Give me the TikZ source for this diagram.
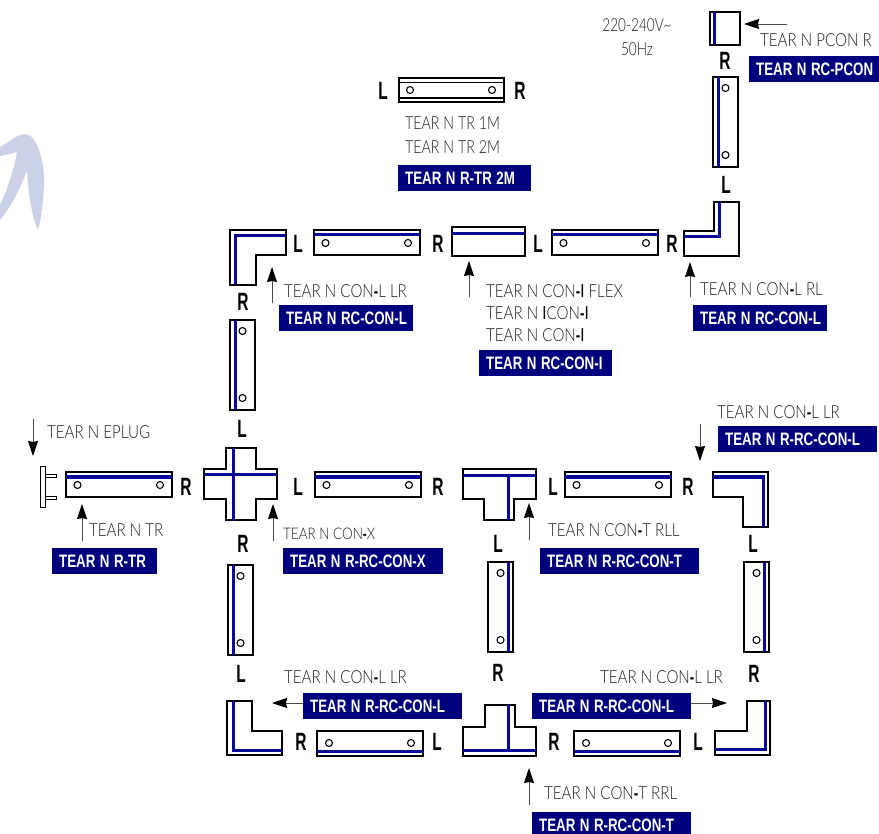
\documentclass[tikz,border=0pt]{standalone}
\usepackage{fontspec}
\usepackage{xcolor}
\usetikzlibrary{arrows.meta}
\setmainfont{Liberation Sans}
\newfontfamily\plainfont{Lato Light}[FakeStretch=0.84]
\newfontfamily\midfont{Lato}[FakeStretch=0.84]
\newfontfamily\heavyfont{Liberation Sans}[UprightFont=* Bold,FakeStretch=0.74]
\newfontfamily\sidefont{Liberation Sans}[UprightFont=* Bold,FakeStretch=0.62]
\definecolor{railblue}{HTML}{0A0A9A}
\definecolor{barblue}{HTML}{00007F}
\definecolor{swoosh}{HTML}{CCD0E8}
\definecolor{tagtext}{HTML}{1E1E1E}
\newcommand{\hy}{{\color{black}\heavyfont -}}
\newcommand{\dk}{{\color{black}\midfont I}}
\newcommand{\barstart}{\spaceskip 4.5pt\relax\hspace*{2pt}}

\begin{document}
\begin{tikzpicture}[
    x=1pt, y=-1pt,
    body/.style={draw=black, line width=1.4pt, line join=miter},
    stripe/.style={draw=railblue, line width=3pt},
    pointer/.style={draw=black!70, line width=0.9pt, -{Stealth[length=15pt,width=10pt,inset=1pt,color=black]}},
    tag/.style={anchor=west, inner sep=0pt, text=tagtext, font=\plainfont\fontsize{18}{20}\selectfont},
    side/.style={inner sep=0pt, font=\sidefont\fontsize{25}{26}\selectfont},
    badge/.style={anchor=west, fill=barblue, text=white, inner xsep=5pt, inner ysep=0pt, align=left,
      minimum height=26pt, text width=#1, execute at begin node=\barstart,
      font=\heavyfont\fontsize{18}{20}\selectfont},
  ]
    \clip (0,0) rectangle (879,834);
    \fill [swoosh] (0,147) .. controls (10,142) and (17,134) .. (25,134)
      .. controls (38,134) and (45,165) .. (44,185)
      .. controls (43,205) and (41,220) .. (38,230)
      .. controls (31,215) and (28,190) .. (27,170)
      .. controls (20,190) and (10,208) .. (0,220)
      -- (0,205) .. controls (7,190) and (14,170) .. (17,152)
      .. controls (10,154) and (5,155) .. (0,156) -- cycle;

    % horizontal rails
    \foreach \x/\y in {314/230,552/230,66/472,315/472,565/472} {
      \draw [body] (\x,\y) rectangle +(106,25);
      \draw [stripe] (\x,\y+5) -- +(106,0);
      \draw [body,line width=1.1pt] (\x+11.5,\y+13) circle (3.5) (\x+94,\y+13) circle (3.5);
    }
    \foreach \x/\y in {317/731,574/731} {
      \draw [body] (\x,\y) rectangle +(106,25);
      \draw [stripe] (\x,\y+20) -- +(106,0);
      \draw [body,line width=1.1pt] (\x+12,\y+12) circle (3.5) (\x+94,\y+12) circle (3.5);
    }
    % vertical rails
    \foreach \x/\y in {713/77,230/320,228/565} {
      \draw [body] (\x,\y) rectangle +(25,90);
      \draw [stripe] (\x+5,\y) -- +(0,90);
      \draw [body,line width=1.1pt] (\x+12.5,\y+11) circle (3.5) (\x+12.5,\y+78) circle (3.5);
    }
    \foreach \x/\y in {488/562,744/562} {
      \draw [body] (\x,\y) rectangle +(25,90);
      \draw [stripe] (\x+20,\y) -- +(0,90);
      \draw [body,line width=1.1pt] (\x+12.5,\y+11) circle (3.5) (\x+12.5,\y+78) circle (3.5);
    }
    % rail drawn without a stripe
    \draw [body] (399,78) rectangle (504,102);
    \draw [draw=black, line width=0.8pt] (399,82) -- (504,82);
    \draw [draw=black, line width=1.1pt] (399,98) -- (504,98);
    \draw [body,line width=1.1pt] (410,90) circle (3.5) (492,90) circle (3.5);

    % end pieces
    \draw [body] (710,12) rectangle (740,45);
    \draw [stripe] (714.5,12) -- (714.5,45);
    \draw [body] (452,227) rectangle (525,256);
    \draw [stripe] (452,234) -- (525,234);
    \draw [draw=black, line width=0.9pt] (40,466) rectangle (45,507);
    \draw [draw=black, line width=0.9pt] (45,474) rectangle (56,477) (45,496) rectangle (56,499);

    % corners
    \draw [body] (714,202) -- (739,202) -- (739,256) -- (684,256) -- (684,231) -- (714,231) -- cycle;
    \draw [stripe] (719,202) -- (719,237) -- (684,237);
    \draw [body] (230,230) -- (286,230) -- (286,255) -- (256,255) -- (256,285) -- (230,285) -- cycle;
    \draw [stripe] (235,285) -- (235,236) -- (286,236);
    \draw [body] (713,472) -- (768,472) -- (768,527) -- (743,527) -- (743,497) -- (713,497) -- cycle;
    \draw [stripe] (713,477) -- (763,477) -- (763,527);
    \draw [body] (227,701) -- (252,701) -- (252,731) -- (282,731) -- (282,755) -- (227,755) -- cycle;
    \draw [stripe] (233,701) -- (233,750) -- (282,750);
    \draw [body] (747,701) -- (770,701) -- (770,755) -- (715,755) -- (715,731) -- (747,731) -- cycle;
    \draw [stripe] (765,701) -- (765,749) -- (715,749);

    % cross and tees
    \draw [body] (226,448) -- (256,448) -- (256,469) -- (277,469) -- (277,499) -- (256,499)
      -- (256,520) -- (226,520) -- (226,499) -- (204,499) -- (204,469) -- (226,469) -- cycle;
    \draw [stripe] (233,448) -- (233,521) (205,475) -- (277,475);
    \draw [body] (463,469) -- (536,469) -- (536,499) -- (514,499) -- (514,520) -- (484,520)
      -- (484,499) -- (463,499) -- cycle;
    \draw [stripe] (463,476) -- (536,476) (508,476) -- (508,520);
    \draw [body] (485,705) -- (515,705) -- (515,727) -- (536,727) -- (536,756) -- (463,756)
      -- (463,727) -- (485,727) -- cycle;
    \draw [stripe] (463,750) -- (536,750) (508,705) -- (508,750);

    % side letters
    \node [side] (rTop) at (725,61) {R};
    \node [side] (lTop) at (726,185) {L};
    \node [side] (lRailTop) at (383,91) {L};
    \node [side] (rRailTop) at (520,91) {R};
    \node [side] (rCornerTop) at (672,244) {R};
    \node [side] (lFlexB) at (538,244) {L};
    \node [side] (rFlexA) at (438,244) {R};
    \node [side] (lFlexA) at (298,244) {L};
    \node [side] (rCornerLeft) at (243,302) {R};
    \node [side] (lCrossTop) at (242,429) {L};
    \node [side] (rTr) at (186,487) {R};
    \node [side] (lCross) at (298,487) {L};
    \node [side] (rCross) at (438,487) {R};
    \node [side] (lTee) at (553,487) {L};
    \node [side] (rTee) at (688,487) {R};
    \node [side] (rCrossBot) at (243,544) {R};
    \node [side] (lTeeBot) at (498,544) {L};
    \node [side] (lCornerRight) at (753,544) {L};
    \node [side] (lLower) at (241,674) {L};
    \node [side] (rLower) at (498,673) {R};
    \node [side] (rLowerB) at (754,674) {R};
    \node [side] (rBottomA) at (301,742) {R};
    \node [side] (lBottomA) at (437,742) {L};
    \node [side] (rBottomB) at (554,742) {R};
    \node [side] (lBottomB) at (698,742) {L};

    % product codes
    \node [tag,anchor=center] (mains) at (637,25) {\scalebox{.9}[1]{220-240V\textasciitilde}};
    \node [tag,anchor=center] (freq) at (637,49) {\scalebox{.9}[1]{50Hz}};
    \node [tag] (tagPcon) at (760,40) {TEAR N PCON R};
    \node [tag] (tagTrA) at (405,123) {\scalebox{.94}[1]{TEAR N TR 1M}};
    \node [tag] (tagTrB) at (405,147) {\scalebox{.94}[1]{TEAR N TR 2M}};
    \node [tag] (tagConLa) at (284,291) {TEAR N CON\hy L LR};
    \node [tag] (tagFlex) at (486,291) {TEAR N CON\hy\dk{} FLEX};
    \node [tag] (tagIcon) at (486,313) {TEAR N \dk CON\hy\dk};
    \node [tag] (tagConI) at (486,335) {TEAR N CON\hy\dk};
    \node [tag] (tagConLb) at (700,289) {TEAR N CON\hy L RL};
    \node [tag] (tagConLc) at (717,412) {TEAR N CON\hy L LR};
    \node [tag] (tagPlug) at (47,432) {TEAR N EPLUG};
    \node [tag] (tagTr) at (89,530) {TEAR N TR};
    \node [tag,font=\plainfont\fontsize{16}{18}\selectfont] (tagConX) at (283,534) {TEAR N CON\hy X};
    \node [tag] (tagConT) at (548,530) {TEAR N CON\hy T RLL};
    \node [tag] (tagConLd) at (284,677) {TEAR N CON\hy L LR};
    \node [tag] (tagConLe) at (600,677) {TEAR N CON\hy L LR};
    \node [tag] (tagConTb) at (544,793) {TEAR N CON\hy T RRL};

    % blue bars
    \node [badge=120pt] (barPcon) at (749,69) {TEAR N RC-PCON};
    \node [badge=123pt] (barTr2m) at (398,178) {TEAR N R-TR 2M};
    \node [badge=124pt] (barLa) at (279,318) {TEAR N RC-CON-L};
    \node [badge=123pt] (barI) at (479,363) {TEAR N RC-CON-I};
    \node [badge=124pt] (barLb) at (693,318) {TEAR N RC-CON-L};
    \node [badge=149pt] (barLc) at (718,439) {TEAR N R-RC-CON-L};
    \node [badge=95pt] (barTr) at (52,561) {TEAR N R-TR};
    \node [badge=150pt] (barX) at (283,561) {TEAR N R-RC-CON-X};
    \node [badge=149pt] (barT) at (540,561) {TEAR N R-RC-CON-T};
    \node [badge=149pt] (barLd) at (303,706) {TEAR N R-RC-CON-L};
    \node [badge=149pt] (barLe) at (532,706) {TEAR N R-RC-CON-L};
    \node [badge=149pt] (barTb) at (532,825) {TEAR N R-RC-CON-T};

    % pointers
    \coordinate (pconTail) at (787,24);   \coordinate (pconTip) at (744,24);
    \coordinate (laTail) at (272,303);    \coordinate (laTip) at (272,267);
    \coordinate (flexTail) at (469,297);  \coordinate (flexTip) at (469,261);
    \coordinate (lbTail) at (690,297);    \coordinate (lbTip) at (690,262);
    \coordinate (plugTail) at (33,419);   \coordinate (plugTip) at (33,456);
    \coordinate (trTail) at (82,541);     \coordinate (trTip) at (82,504);
    \coordinate (xTail) at (273,541);     \coordinate (xTip) at (273,504);
    \coordinate (tTail) at (529,540);     \coordinate (tTip) at (529,503);
    \coordinate (lcTail) at (700,424);    \coordinate (lcTip) at (700,461);
    \coordinate (leftTip) at (272,703);   \coordinate (rightTip) at (727,703);
    \coordinate (tbTail) at (529,805);    \coordinate (tbTip) at (529,768);
    \draw [pointer] (pconTail) -- (pconTip);
    \draw [pointer] (laTail) -- (laTip);
    \draw [pointer] (flexTail) -- (flexTip);
    \draw [pointer] (lbTail) -- (lbTip);
    \draw [pointer] (plugTail) -- (plugTip);
    \draw [pointer] (trTail) -- (trTip);
    \draw [pointer] (xTail) -- (xTip);
    \draw [pointer] (tTail) -- (tTip);
    \draw [pointer] (lcTail) -- (lcTip);
    \draw [pointer] (barLd.west |- leftTip) -- (leftTip);
    \draw [pointer] (barLe.east |- rightTip) -- (rightTip);
    \draw [pointer] (tbTail) -- (tbTip);
\end{tikzpicture}
\end{document}
